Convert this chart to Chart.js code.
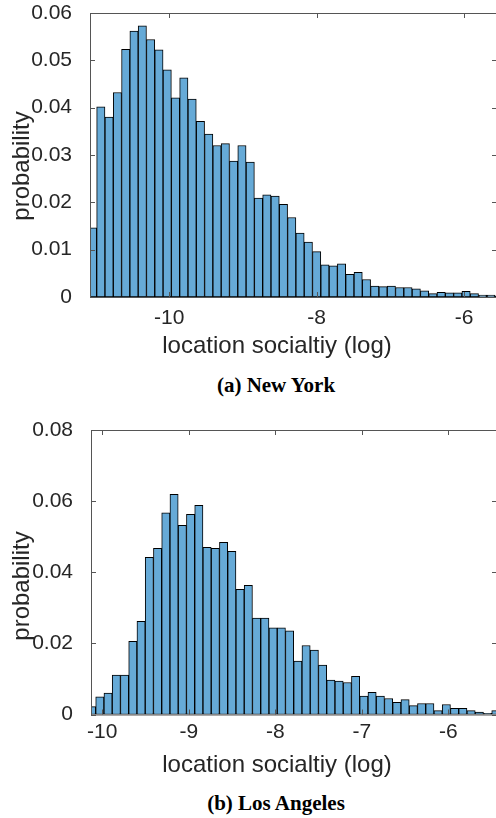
<!DOCTYPE html>
<html>
<head>
<meta charset="utf-8">
<script src="https://cdn.jsdelivr.net/npm/chart.js@4.4.1/dist/chart.umd.min.js"></script>
<style>
  html, body { margin: 0; padding: 0; background: #fff; overflow: hidden; width: 496px; height: 818px; }
  .wrap { position: absolute; left: 0; }
  .wrap canvas { display: block; }
  .caption { position: absolute; left: 126px; width: 300px; text-align: center;
             font: bold 21px "Liberation Serif", serif; line-height: 20px; color: #000; }
</style>
</head>
<body>
<div class="wrap" style="top:0"><canvas id="ny" width="506" height="370"></canvas></div>
<div class="caption" style="top:375px">(a) New York</div>
<div class="wrap" style="top:400px"><canvas id="la" width="506" height="380"></canvas></div>
<div class="caption" style="top:793px">(b) Los Angeles</div>
<script>
// histogram bins: first bin centre and bin width (log location sociality)
const nyFirstBin = -11.042;
const nyBinWidth = 0.11267;
const laFirstBin = -10.124;
const laBinWidth = 0.09538;

// probability per bin
const nyProb = [0.0146, 0.0402, 0.0380, 0.0432, 0.0523, 0.0562, 0.0573, 0.0544, 0.0522, 0.0480,
                0.0421, 0.0463, 0.0418, 0.0371, 0.0344, 0.0320, 0.0324, 0.0287, 0.0320, 0.0285,
                0.0209, 0.0216, 0.0213, 0.0196, 0.0168, 0.0135, 0.0116, 0.0096, 0.0068, 0.0066,
                0.0070, 0.0048, 0.0052, 0.0037, 0.0023, 0.0022, 0.0023, 0.0020, 0.0020, 0.0017,
                0.0013, 0.0007, 0.0010, 0.0009, 0.0009, 0.0012, 0.0007, 0.0004, 0.0004, 0.0002];
const laProb = [0.0022, 0.0050, 0.0060, 0.0111, 0.0111, 0.0206, 0.0262, 0.0442, 0.0467, 0.0567,
                0.0619, 0.0532, 0.0563, 0.0588, 0.0470, 0.0467, 0.0484, 0.0459, 0.0352, 0.0363,
                0.0271, 0.0271, 0.0244, 0.0244, 0.0235, 0.0150, 0.0194, 0.0181, 0.0139, 0.0097,
                0.0094, 0.0090, 0.0107, 0.0052, 0.0062, 0.0052, 0.0045, 0.0034, 0.0042, 0.0025,
                0.0031, 0.0031, 0.0011, 0.0028, 0.0017, 0.0017, 0.0011, 0.0007, 0.0003, 0.0011];

// axis ticks
const nyXTicks = [-10, -8, -6];
const nyYTicks = [0, 0.01, 0.02, 0.03, 0.04, 0.05, 0.06];
const laXTicks = [-10, -9, -8, -7, -6];
const laYTicks = [0, 0.02, 0.04, 0.06, 0.08];

const xTitle = 'location socialtiy (log)';
const yTitle = 'probability';

const textColor = '#262626';
const barFill = 'rgb(102, 170, 215)';

// box around the axes with inward ticks on all sides, plus axis titles
const frame = {
  id: 'frame',
  afterDatasetsDraw(chart, args, o) {
    const {ctx, chartArea: a, scales: {x, y}} = chart;
    ctx.save();
    ctx.strokeStyle = '#555';
    ctx.lineWidth = 1;
    ctx.strokeRect(a.left + 0.5, a.top + 0.5, a.right - a.left, a.bottom - a.top);
    ctx.beginPath();
    x.ticks.forEach(t => {
      const px = Math.round(x.getPixelForValue(t.value)) + 0.5;
      ctx.moveTo(px, a.bottom); ctx.lineTo(px, a.bottom - 5);
      ctx.moveTo(px, a.top); ctx.lineTo(px, a.top + 5);
    });
    y.ticks.forEach(t => {
      const py = Math.round(y.getPixelForValue(t.value)) + 0.5;
      ctx.moveTo(a.left, py); ctx.lineTo(a.left + 5, py);
      ctx.moveTo(a.right, py); ctx.lineTo(a.right - 5, py);
    });
    ctx.stroke();

    ctx.fillStyle = textColor;
    ctx.font = '24px "Liberation Sans", Arial, sans-serif';
    ctx.textAlign = 'center';
    ctx.textBaseline = 'alphabetic';
    ctx.fillText(xTitle, o.xTitleX, o.xTitleY);
    ctx.translate(o.yTitleX, o.yTitleY);
    ctx.rotate(-Math.PI / 2);
    ctx.fillText(yTitle, 0, 0);
    ctx.restore();
  }
};

function makeHist(id, firstBin, binWidth, prob, xTicks, yTicks, xr, yMax, box, titles) {
  const points = prob.map((p, i) => ({x: firstBin + i * binWidth, y: p}));
  return new Chart(document.getElementById(id), {
    type: 'bar',
    data: {
      datasets: [{
        data: points,
        backgroundColor: barFill,
        borderColor: '#000',
        borderWidth: 1,
        borderSkipped: false,
        barPercentage: 1,
        categoryPercentage: 1,
        clip: 0
      }]
    },
    options: {
      responsive: false,
      animation: false,
      events: [],
      layout: {padding: {left: 0, top: box.top, right: 9, bottom: 0}},
      plugins: {legend: {display: false}, tooltip: {enabled: false}, frame: titles},
      scales: {
        x: {
          type: 'linear',
          offset: false,
          min: xr[0],
          max: xr[1],
          grid: {display: false},
          border: {display: false},
          afterBuildTicks: s => { s.ticks = xTicks.map(v => ({value: v})); },
          afterFit: s => { s.height = box.xHeight; s.paddingLeft = 0; s.paddingRight = 0; },
          ticks: {
            color: textColor,
            padding: box.xPad,
            maxRotation: 0,
            font: {family: '"Liberation Sans", Arial, sans-serif', size: 21},
            callback: v => String(v)
          }
        },
        y: {
          min: 0,
          max: yMax,
          grid: {display: false},
          border: {display: false},
          afterBuildTicks: s => { s.ticks = yTicks.map(v => ({value: v})); },
          afterFit: s => { s.width = box.yWidth; s.paddingTop = 0; s.paddingBottom = 0; },
          ticks: {
            color: textColor,
            padding: 10,
            font: {family: '"Liberation Sans", Arial, sans-serif', size: 21},
            callback: v => (v === 0 ? '0' : v.toFixed(2))
          }
        }
      }
    },
    plugins: [frame]
  });
}

makeHist('ny', nyFirstBin, nyBinWidth, nyProb, nyXTicks, nyYTicks, [-11.076, -5.552], 0.06,
  {top: 13, xHeight: 73, yWidth: 90, xPad: 1},
  {xTitleX: 277, xTitleY: 353, yTitleX: 29, yTitleY: 166});

makeHist('la', laFirstBin, laBinWidth, laProb, laXTicks, laYTicks, [-10.1306, -5.437], 0.08,
  {top: 30, xHeight: 65.5, yWidth: 91, xPad: -3},
  {xTitleX: 277, xTitleY: 372, yTitleX: 29, yTitleY: 186});
</script>
</body>
</html>
